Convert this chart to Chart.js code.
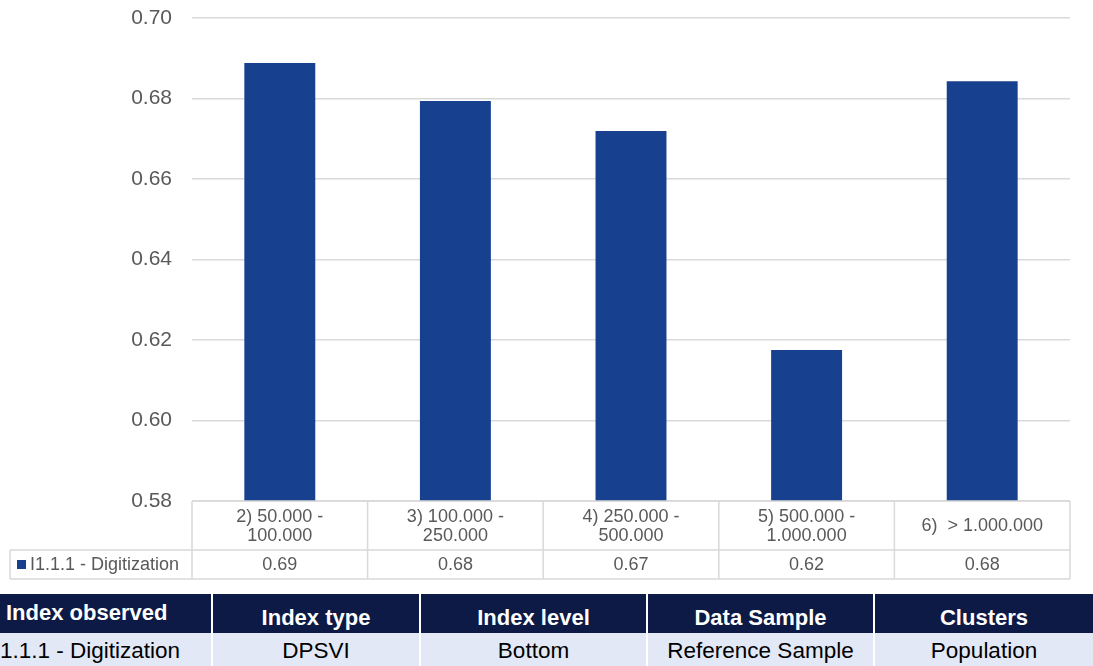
<!DOCTYPE html>
<html>
<head>
<meta charset="utf-8">
<script src="https://cdn.jsdelivr.net/npm/chart.js@4/dist/chart.umd.min.js"></script>
<style>
  html, body { margin: 0; padding: 0; background: #fff; }
  #wrap { position: relative; width: 1093px; height: 666px; overflow: hidden; font-family: "Liberation Sans", Arial, sans-serif; }
  #chart { position: absolute; left: 0; top: 0; }
  .row { position: absolute; left: 0; width: 1093px; display: flex; }
  .row div { box-sizing: border-box; white-space: nowrap; overflow: hidden; text-align: center; line-height: 24px; border-left: 2px solid #fff; }
  .row div:first-child { border-left: none; text-align: left; }
  #infoHead { top: 594px; height: 39px; }
  #infoHead div { background: #0c1a45; color: #fff; font-weight: bold; font-size: 22px; height: 39px; padding-top: 12px; }
  #infoHead div:first-child { padding-top: 7px; padding-left: 6px; }
  #infoBody { top: 633px; height: 33px; }
  #infoBody div { background: #e2e8f6; color: #000; font-size: 22.5px; height: 33px; padding-top: 6px; }
</style>
</head>
<body>
<div id="wrap">
  <canvas id="chart" width="1093" height="590"></canvas>
  <div class="row" id="infoHead"></div>
  <div class="row" id="infoBody"></div>
</div>
<script>
// population clusters
const categories = [
  ['2) 50.000 -', '100.000'],
  ['3) 100.000 -', '250.000'],
  ['4) 250.000 -', '500.000'],
  ['5) 500.000 -', '1.000.000'],
  ['6)  > 1.000.000']
];
const seriesName = 'I1.1.1 - Digitization';
const digitization = [0.6888, 0.6794, 0.6719, 0.6175, 0.6843];
const yTicks = [0.58, 0.60, 0.62, 0.64, 0.66, 0.68, 0.70];

const infoHeaders = ['Index observed', 'Index type', 'Index level', 'Data Sample', 'Clusters'];
const infoValues = ['1.1.1 - Digitization', 'DPSVI', 'Bottom', 'Reference Sample', 'Population'];
const infoWidths = [211, 208, 227, 227, 220];

const barColor = '#17418f';
const textColor = '#595959';
const lineColor = '#d9d9d9';
const tableFont = '18px "Liberation Sans", Arial, sans-serif';

// data table under the plot: category row + value row, legend key on the left
const dataTable = {
  id: 'dataTable',
  afterDraw(chart) {
    const ctx = chart.ctx;
    const x = chart.scales.x;
    const area = chart.chartArea;
    const slot = x.width / categories.length;
    const top = area.bottom;
    const mid = top + 49;
    const bottom = mid + 29;
    const legendLeft = 10;

    ctx.save();
    ctx.strokeStyle = lineColor;
    ctx.lineWidth = 1.5;
    ctx.beginPath();
    ctx.moveTo(area.left, top); ctx.lineTo(area.right, top);
    ctx.moveTo(legendLeft, mid); ctx.lineTo(area.right, mid);
    ctx.moveTo(legendLeft, bottom); ctx.lineTo(area.right, bottom);
    ctx.moveTo(legendLeft, mid); ctx.lineTo(legendLeft, bottom);
    for (let i = 0; i <= categories.length; i++) {
      const cx = area.left + i * slot;
      ctx.moveTo(cx, top); ctx.lineTo(cx, bottom);
    }
    ctx.stroke();

    ctx.fillStyle = textColor;
    ctx.font = tableFont;
    ctx.textAlign = 'center';
    ctx.textBaseline = 'middle';
    categories.forEach((lines, i) => {
      const cx = x.getPixelForValue(i);
      const lh = 19;
      const y0 = (top + mid) / 2 - (lines.length - 1) * lh / 2 + 1;
      lines.forEach((s, j) => ctx.fillText(s, cx, y0 + j * lh));
      ctx.fillText(digitization[i].toFixed(2), cx, (mid + bottom) / 2 + 1);
    });

    ctx.fillStyle = barColor;
    ctx.fillRect(17, (mid + bottom) / 2 - 4.5, 9, 9);
    ctx.fillStyle = textColor;
    ctx.textAlign = 'left';
    ctx.fillText(seriesName, 30, (mid + bottom) / 2 + 1);
    ctx.restore();
  }
};

new Chart(document.getElementById('chart'), {
  type: 'bar',
  data: {
    labels: categories,
    datasets: [{
      label: seriesName,
      data: digitization,
      backgroundColor: barColor,
      categoryPercentage: 1,
      barPercentage: 0.404
    }]
  },
  options: {
    responsive: false,
    animation: false,
    layout: { padding: { left: 0, right: 23, top: 18, bottom: 89 } },
    plugins: { legend: { display: false }, tooltip: { enabled: false } },
    scales: {
      x: { display: false },
      y: {
        min: 0.58,
        max: 0.70,
        afterFit: s => { s.width = 192; s.paddingTop = 0; s.paddingBottom = 0; },
        afterBuildTicks: s => { s.ticks = yTicks.map(v => ({ value: v })); },
        border: { display: false },
        grid: { color: lineColor, lineWidth: 1.5, drawTicks: false },
        ticks: {
          padding: 20,
          color: textColor,
          font: { family: '"Liberation Sans", Arial, sans-serif', size: 21 },
          callback: v => v.toFixed(2)
        }
      }
    }
  },
  plugins: [dataTable]
});

infoHeaders.forEach((h, i) => {
  const d = document.createElement('div');
  d.style.width = infoWidths[i] + 'px';
  d.textContent = h;
  document.getElementById('infoHead').appendChild(d);
});
infoValues.forEach((v, i) => {
  const d = document.createElement('div');
  d.style.width = infoWidths[i] + 'px';
  d.textContent = v;
  document.getElementById('infoBody').appendChild(d);
});
</script>
</body>
</html>
